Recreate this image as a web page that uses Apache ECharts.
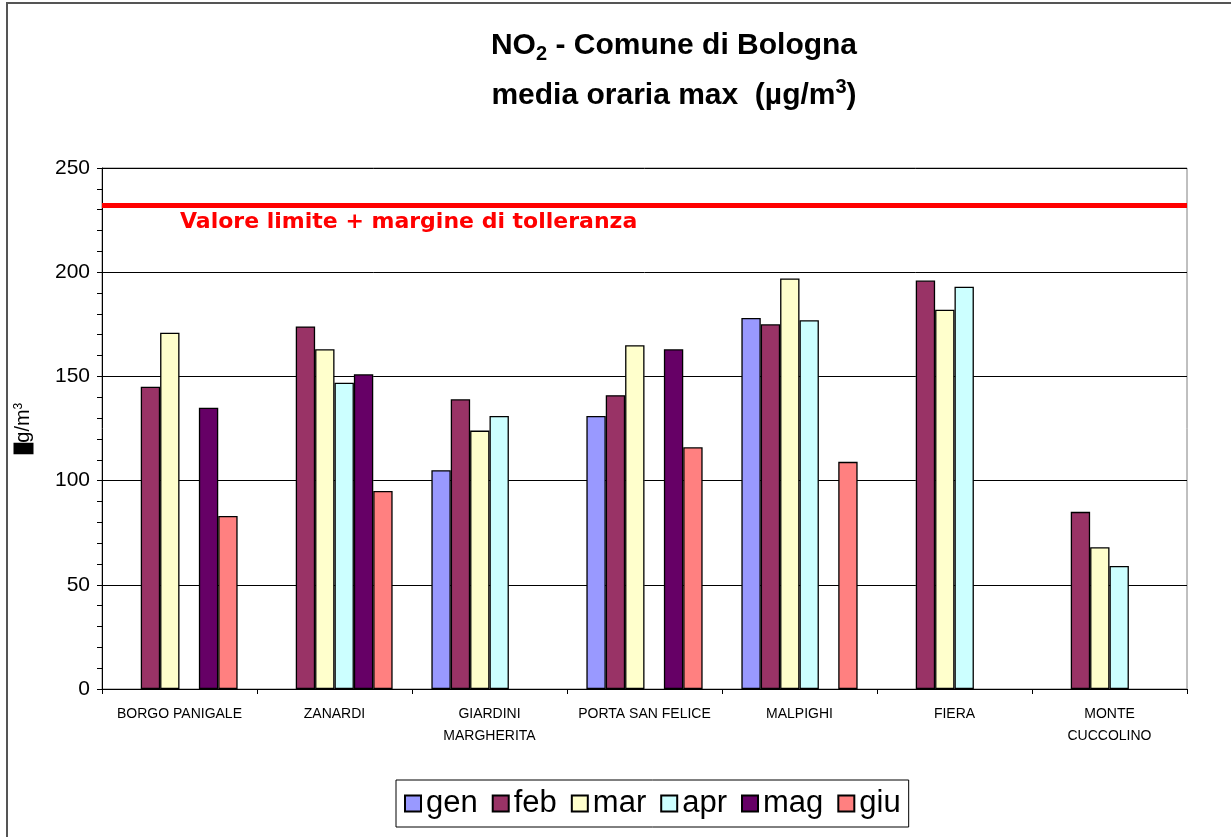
<!DOCTYPE html>
<html>
<head>
<meta charset="utf-8">
<title>NO2 - Comune di Bologna</title>
<script src="https://cdn.jsdelivr.net/npm/echarts@6/dist/echarts.min.js"></script>
<style>
  html, body { margin: 0; padding: 0; background: #fff; }
  #chart { width: 1231px; height: 837px; }
</style>
</head>
<body>
<div id="chart"></div>
<script>
// stazioni
const stazioni = ['BORGO PANIGALE', 'ZANARDI', 'GIARDINI\nMARGHERITA', 'PORTA SAN FELICE', 'MALPIGHI', 'FIERA', 'MONTE\nCUCCOLINO']
const mesi = ['gen', 'feb', 'mar', 'apr', 'mag', 'giu']
// media oraria max per mese (µg/m3)
const gen = [null, null, 105, 131, 178, null, null]
const feb = [145, 174, 139, 141, 175, 196, 85]
const mar = [171, 163, 124, 165, 197, 182, 68]
const apr = [null, 147, 131, null, 177, 193, 59]
const mag = [135, 151, null, 163, null, null, null]
const giu = [83, 95, null, 116, 109, null, null]
const colori = ['#9999FF', '#993366', '#FFFFCC', '#CCFFFF', '#660066', '#FF8080']
// valore limite + margine di tolleranza
const limite = 232

const myChart = echarts.init(document.getElementById('chart'))
const valori = [gen, feb, mar, apr, mag, giu]

let series = mesi.map(function (m, i) {
  return {
    name: m,
    type: 'bar',
    barGap: 0,
    barCategoryGap: '25%',
    data: valori[i],
    itemStyle: {
      color: colori[i],
      borderColor: '#000',
      borderWidth: 1.3
    }
  }
})
// linea rossa del limite
series[0].markLine = {
  silent: true,
  symbol: 'none',
  lineStyle: { color: '#FF0000', width: 5, type: 'solid' },
  label: {
    show: true,
    position: 'insideStartBottom',
    distance: [78, 6],
    formatter: 'Valore limite + margine di tolleranza',
    color: '#FF0000',
    fontFamily: 'DejaVu Sans',
    fontWeight: 'bold',
    fontSize: 22
  },
  data: [{ yAxis: limite }]
}

let option = {
  animation: false,
  backgroundColor: '#fff',
  title: {
    left: 669,
    top: 16,
    textAlign: 'center',
    text: 'NO{sub|2} - Comune di Bologna\nmedia oraria max  (µg/m{sup|3})',
    textStyle: {
      fontFamily: 'Liberation Sans',
      fontWeight: 'bold',
      fontSize: 30,
      color: '#000',
      lineHeight: 50,
      rich: {
        sub: { fontFamily: 'Liberation Sans', fontWeight: 'bold', fontSize: 20, padding: [16, 0, 0, 0] },
        sup: { fontFamily: 'Liberation Sans', fontWeight: 'bold', fontSize: 20, padding: [0, 0, 18, 0] }
      }
    }
  },
  legend: {
    left: 396,
    top: 780,
    padding: [8, 8],
    itemGap: 14,
    itemWidth: 16,
    itemHeight: 16,
    borderColor: '#000',
    borderWidth: 1,
    icon: 'rect',
    textStyle: { fontFamily: 'Liberation Sans', fontSize: 31, color: '#000' },
    data: mesi
  },
  grid: {
    left: 102,
    right: 44,
    top: 168,
    bottom: 148,
    show: true,
    borderColor: '#808080',
    borderWidth: 1,
    containLabel: false
  },
  xAxis: {
    type: 'category',
    data: stazioni,
    axisLine: { lineStyle: { color: '#000', width: 1 } },
    axisTick: { show: true, length: 5, lineStyle: { color: '#000' } },
    axisLabel: {
      interval: 0,
      margin: 14,
      fontFamily: 'Liberation Sans',
      fontSize: 14,
      lineHeight: 22,
      color: '#000'
    }
  },
  yAxis: {
    type: 'value',
    min: 0,
    max: 250,
    interval: 50,
    name: '{box|µ}g/m{sup|3}',
    nameLocation: 'middle',
    nameGap: 68,
    nameRotate: 90,
    nameTextStyle: {
      fontFamily: 'Liberation Sans',
      fontSize: 20,
      color: '#000',
      rich: {
        box: { fontFamily: 'Liberation Sans', fontSize: 20, color: '#000', backgroundColor: '#000' },
        sup: { fontFamily: 'Liberation Sans', fontSize: 12, padding: [0, 0, 9, 0] }
      }
    },
    axisLine: { show: true, lineStyle: { color: '#000', width: 1 } },
    axisTick: { show: true, length: 5, lineStyle: { color: '#000' } },
    minorTick: { show: true, splitNumber: 5, length: 5, lineStyle: { color: '#000' } },
    splitLine: { show: true, lineStyle: { color: '#000', width: 1 } },
    axisLabel: {
      margin: 12,
      fontFamily: 'Liberation Sans',
      fontSize: 21,
      color: '#000'
    }
  },
  // cornice del grafico
  graphic: [
    {
      type: 'rect',
      z: -1,
      shape: { x: 7, y: 3, width: 1400, height: 1000 },
      style: { fill: 'none', stroke: '#555', lineWidth: 2 }
    }
  ],
  series: series
}

myChart.clear()
myChart.setOption(option)
window.addEventListener('resize', function () {
  myChart.resize()
})
</script>
</body>
</html>
